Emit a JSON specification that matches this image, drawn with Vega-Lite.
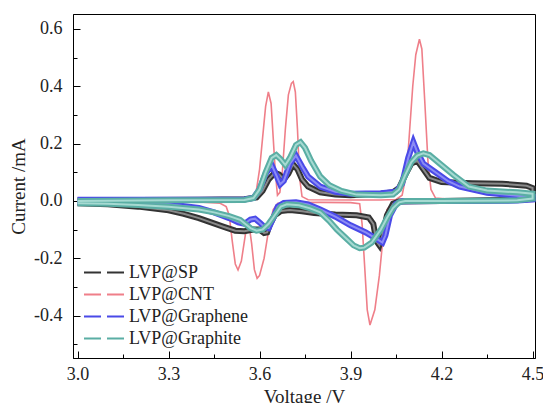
{
  "$schema": "https://vega.github.io/schema/vega-lite/v6.json",
  "width": 462,
  "height": 344,
  "autosize": {"type": "none"},
  "padding": {"left": 73, "top": 14, "right": 8, "bottom": 45},
  "background": "white",
  "config": {
    "font": "Liberation Serif",
    "view": {"stroke": "black", "strokeWidth": 1},
    "axis": {
      "grid": false,
      "domainColor": "black",
      "tickColor": "black",
      "tickWidth": 1,
      "labelFont": "Liberation Serif",
      "labelFontSize": 18,
      "labelColor": "#222",
      "titleFont": "Liberation Serif",
      "titleFontSize": 19,
      "titleFontWeight": "normal",
      "titleColor": "#222",
      "labelOverlap": false,
      "labelFlush": false
    },
    "legend": {
      "orient": "bottom-left",
      "offset": 10,
      "padding": 0,
      "labelFont": "Liberation Serif",
      "labelFontSize": 18,
      "labelColor": "#222",
      "symbolType": "M-1,0H3",
      "symbolStrokeWidth": 2,
      "symbolSize": 441,
      "symbolDash": [17, 6],
      "rowPadding": 1,
      "labelOffset": 23
    }
  },
  "data": {"values": [
    {"s":"LVP@SP","v":3.00,"i":0.002},{"s":"LVP@SP","v":3.20,"i":0.003},{"s":"LVP@SP","v":3.40,"i":0.004},{"s":"LVP@SP","v":3.55,"i":0.006},{"s":"LVP@SP","v":3.59,"i":0.012},{"s":"LVP@SP","v":3.61,"i":0.035},{"s":"LVP@SP","v":3.63,"i":0.075},{"s":"LVP@SP","v":3.65,"i":0.098},{"s":"LVP@SP","v":3.665,"i":0.092},{"s":"LVP@SP","v":3.68,"i":0.075},{"s":"LVP@SP","v":3.695,"i":0.095},{"s":"LVP@SP","v":3.71,"i":0.128},{"s":"LVP@SP","v":3.725,"i":0.11},{"s":"LVP@SP","v":3.74,"i":0.075},{"s":"LVP@SP","v":3.76,"i":0.05},{"s":"LVP@SP","v":3.80,"i":0.03},{"s":"LVP@SP","v":3.85,"i":0.022},{"s":"LVP@SP","v":3.90,"i":0.02},{"s":"LVP@SP","v":3.95,"i":0.022},{"s":"LVP@SP","v":4.00,"i":0.025},{"s":"LVP@SP","v":4.04,"i":0.03},{"s":"LVP@SP","v":4.06,"i":0.045},{"s":"LVP@SP","v":4.08,"i":0.09},{"s":"LVP@SP","v":4.10,"i":0.13},{"s":"LVP@SP","v":4.12,"i":0.14},{"s":"LVP@SP","v":4.14,"i":0.11},{"s":"LVP@SP","v":4.16,"i":0.08},{"s":"LVP@SP","v":4.20,"i":0.066},{"s":"LVP@SP","v":4.30,"i":0.062},{"s":"LVP@SP","v":4.40,"i":0.06},{"s":"LVP@SP","v":4.48,"i":0.053},{"s":"LVP@SP","v":4.50,"i":0.045},
    {"s":"LVP@SP","v":4.50,"i":0.02},{"s":"LVP@SP","v":4.48,"i":0.006},{"s":"LVP@SP","v":4.40,"i":0.003},{"s":"LVP@SP","v":4.20,"i":0.0},{"s":"LVP@SP","v":4.06,"i":-0.002},{"s":"LVP@SP","v":4.04,"i":-0.01},{"s":"LVP@SP","v":4.02,"i":-0.05},{"s":"LVP@SP","v":4.005,"i":-0.12},{"s":"LVP@SP","v":3.995,"i":-0.155},{"s":"LVP@SP","v":3.985,"i":-0.14},{"s":"LVP@SP","v":3.975,"i":-0.08},{"s":"LVP@SP","v":3.96,"i":-0.058},{"s":"LVP@SP","v":3.92,"i":-0.05},{"s":"LVP@SP","v":3.85,"i":-0.047},{"s":"LVP@SP","v":3.78,"i":-0.042},{"s":"LVP@SP","v":3.74,"i":-0.036},{"s":"LVP@SP","v":3.70,"i":-0.032},{"s":"LVP@SP","v":3.67,"i":-0.035},{"s":"LVP@SP","v":3.65,"i":-0.05},{"s":"LVP@SP","v":3.635,"i":-0.08},{"s":"LVP@SP","v":3.625,"i":-0.11},{"s":"LVP@SP","v":3.615,"i":-0.112},{"s":"LVP@SP","v":3.60,"i":-0.1},{"s":"LVP@SP","v":3.58,"i":-0.1},{"s":"LVP@SP","v":3.55,"i":-0.106},{"s":"LVP@SP","v":3.52,"i":-0.104},{"s":"LVP@SP","v":3.48,"i":-0.09},{"s":"LVP@SP","v":3.44,"i":-0.075},{"s":"LVP@SP","v":3.40,"i":-0.06},{"s":"LVP@SP","v":3.35,"i":-0.045},{"s":"LVP@SP","v":3.30,"i":-0.033},{"s":"LVP@SP","v":3.20,"i":-0.02},{"s":"LVP@SP","v":3.10,"i":-0.012},{"s":"LVP@SP","v":3.00,"i":-0.008},
    {"s":"LVP@CNT","v":3.00,"i":0.003},{"s":"LVP@CNT","v":3.30,"i":0.002},{"s":"LVP@CNT","v":3.55,"i":0.002},{"s":"LVP@CNT","v":3.58,"i":0.01},{"s":"LVP@CNT","v":3.59,"i":0.04},{"s":"LVP@CNT","v":3.60,"i":0.11},{"s":"LVP@CNT","v":3.61,"i":0.22},{"s":"LVP@CNT","v":3.62,"i":0.33},{"s":"LVP@CNT","v":3.629,"i":0.38},{"s":"LVP@CNT","v":3.638,"i":0.34},{"s":"LVP@CNT","v":3.645,"i":0.22},{"s":"LVP@CNT","v":3.652,"i":0.1},{"s":"LVP@CNT","v":3.659,"i":0.02},{"s":"LVP@CNT","v":3.667,"i":0.03},{"s":"LVP@CNT","v":3.675,"i":0.1},{"s":"LVP@CNT","v":3.685,"i":0.25},{"s":"LVP@CNT","v":3.695,"i":0.37},{"s":"LVP@CNT","v":3.705,"i":0.41},{"s":"LVP@CNT","v":3.711,"i":0.416},{"s":"LVP@CNT","v":3.718,"i":0.38},{"s":"LVP@CNT","v":3.725,"i":0.25},{"s":"LVP@CNT","v":3.732,"i":0.08},{"s":"LVP@CNT","v":3.74,"i":0.015},{"s":"LVP@CNT","v":3.76,"i":0.004},{"s":"LVP@CNT","v":3.90,"i":0.003},{"s":"LVP@CNT","v":4.00,"i":0.003},{"s":"LVP@CNT","v":4.05,"i":0.005},{"s":"LVP@CNT","v":4.07,"i":0.02},{"s":"LVP@CNT","v":4.085,"i":0.1},{"s":"LVP@CNT","v":4.095,"i":0.25},{"s":"LVP@CNT","v":4.105,"i":0.4},{"s":"LVP@CNT","v":4.115,"i":0.51},{"s":"LVP@CNT","v":4.127,"i":0.564},{"s":"LVP@CNT","v":4.135,"i":0.53},{"s":"LVP@CNT","v":4.145,"i":0.34},{"s":"LVP@CNT","v":4.155,"i":0.14},{"s":"LVP@CNT","v":4.165,"i":0.04},{"s":"LVP@CNT","v":4.18,"i":0.01},{"s":"LVP@CNT","v":4.25,"i":0.004},{"s":"LVP@CNT","v":4.40,"i":0.003},{"s":"LVP@CNT","v":4.50,"i":0.003},
    {"s":"LVP@CNT","v":4.50,"i":-0.002},{"s":"LVP@CNT","v":4.30,"i":-0.001},{"s":"LVP@CNT","v":4.10,"i":-0.002},{"s":"LVP@CNT","v":4.04,"i":-0.005},{"s":"LVP@CNT","v":4.02,"i":-0.03},{"s":"LVP@CNT","v":4.005,"i":-0.15},{"s":"LVP@CNT","v":3.995,"i":-0.26},{"s":"LVP@CNT","v":3.98,"i":-0.38},{"s":"LVP@CNT","v":3.964,"i":-0.433},{"s":"LVP@CNT","v":3.955,"i":-0.38},{"s":"LVP@CNT","v":3.946,"i":-0.22},{"s":"LVP@CNT","v":3.938,"i":-0.08},{"s":"LVP@CNT","v":3.93,"i":-0.01},{"s":"LVP@CNT","v":3.90,"i":-0.006},{"s":"LVP@CNT","v":3.80,"i":-0.005},{"s":"LVP@CNT","v":3.70,"i":-0.006},{"s":"LVP@CNT","v":3.66,"i":-0.008},{"s":"LVP@CNT","v":3.645,"i":-0.03},{"s":"LVP@CNT","v":3.63,"i":-0.1},{"s":"LVP@CNT","v":3.615,"i":-0.2},{"s":"LVP@CNT","v":3.60,"i":-0.26},{"s":"LVP@CNT","v":3.592,"i":-0.27},{"s":"LVP@CNT","v":3.583,"i":-0.24},{"s":"LVP@CNT","v":3.574,"i":-0.15},{"s":"LVP@CNT","v":3.565,"i":-0.08},{"s":"LVP@CNT","v":3.558,"i":-0.085},{"s":"LVP@CNT","v":3.55,"i":-0.14},{"s":"LVP@CNT","v":3.54,"i":-0.21},{"s":"LVP@CNT","v":3.529,"i":-0.241},{"s":"LVP@CNT","v":3.52,"i":-0.22},{"s":"LVP@CNT","v":3.51,"i":-0.14},{"s":"LVP@CNT","v":3.50,"i":-0.05},{"s":"LVP@CNT","v":3.49,"i":-0.02},{"s":"LVP@CNT","v":3.47,"i":-0.008},{"s":"LVP@CNT","v":3.40,"i":-0.004},{"s":"LVP@CNT","v":3.20,"i":-0.002},{"s":"LVP@CNT","v":3.00,"i":-0.002},
    {"s":"LVP@Graphene","v":3.00,"i":0.004},{"s":"LVP@Graphene","v":3.30,"i":0.004},{"s":"LVP@Graphene","v":3.55,"i":0.005},{"s":"LVP@Graphene","v":3.58,"i":0.01},{"s":"LVP@Graphene","v":3.60,"i":0.04},{"s":"LVP@Graphene","v":3.62,"i":0.095},{"s":"LVP@Graphene","v":3.64,"i":0.125},{"s":"LVP@Graphene","v":3.655,"i":0.09},{"s":"LVP@Graphene","v":3.668,"i":0.058},{"s":"LVP@Graphene","v":3.68,"i":0.07},{"s":"LVP@Graphene","v":3.70,"i":0.13},{"s":"LVP@Graphene","v":3.72,"i":0.158},{"s":"LVP@Graphene","v":3.74,"i":0.12},{"s":"LVP@Graphene","v":3.76,"i":0.085},{"s":"LVP@Graphene","v":3.80,"i":0.05},{"s":"LVP@Graphene","v":3.85,"i":0.032},{"s":"LVP@Graphene","v":3.90,"i":0.025},{"s":"LVP@Graphene","v":4.00,"i":0.027},{"s":"LVP@Graphene","v":4.05,"i":0.032},{"s":"LVP@Graphene","v":4.07,"i":0.06},{"s":"LVP@Graphene","v":4.09,"i":0.15},{"s":"LVP@Graphene","v":4.107,"i":0.205},{"s":"LVP@Graphene","v":4.12,"i":0.17},{"s":"LVP@Graphene","v":4.14,"i":0.13},{"s":"LVP@Graphene","v":4.18,"i":0.1},{"s":"LVP@Graphene","v":4.22,"i":0.07},{"s":"LVP@Graphene","v":4.26,"i":0.05},{"s":"LVP@Graphene","v":4.35,"i":0.028},{"s":"LVP@Graphene","v":4.45,"i":0.018},{"s":"LVP@Graphene","v":4.50,"i":0.014},
    {"s":"LVP@Graphene","v":4.50,"i":0.005},{"s":"LVP@Graphene","v":4.45,"i":0.001},{"s":"LVP@Graphene","v":4.20,"i":0.0},{"s":"LVP@Graphene","v":4.07,"i":-0.001},{"s":"LVP@Graphene","v":4.05,"i":-0.01},{"s":"LVP@Graphene","v":4.03,"i":-0.05},{"s":"LVP@Graphene","v":4.015,"i":-0.12},{"s":"LVP@Graphene","v":4.005,"i":-0.145},{"s":"LVP@Graphene","v":3.99,"i":-0.135},{"s":"LVP@Graphene","v":3.95,"i":-0.11},{"s":"LVP@Graphene","v":3.90,"i":-0.085},{"s":"LVP@Graphene","v":3.85,"i":-0.055},{"s":"LVP@Graphene","v":3.80,"i":-0.03},{"s":"LVP@Graphene","v":3.76,"i":-0.012},{"s":"LVP@Graphene","v":3.72,"i":-0.005},{"s":"LVP@Graphene","v":3.68,"i":-0.007},{"s":"LVP@Graphene","v":3.66,"i":-0.02},{"s":"LVP@Graphene","v":3.645,"i":-0.06},{"s":"LVP@Graphene","v":3.63,"i":-0.095},{"s":"LVP@Graphene","v":3.615,"i":-0.09},{"s":"LVP@Graphene","v":3.60,"i":-0.075},{"s":"LVP@Graphene","v":3.585,"i":-0.062},{"s":"LVP@Graphene","v":3.57,"i":-0.065},{"s":"LVP@Graphene","v":3.55,"i":-0.08},{"s":"LVP@Graphene","v":3.53,"i":-0.075},{"s":"LVP@Graphene","v":3.50,"i":-0.06},{"s":"LVP@Graphene","v":3.45,"i":-0.04},{"s":"LVP@Graphene","v":3.40,"i":-0.025},{"s":"LVP@Graphene","v":3.30,"i":-0.012},{"s":"LVP@Graphene","v":3.20,"i":-0.006},{"s":"LVP@Graphene","v":3.00,"i":-0.004},
    {"s":"LVP@Graphite","v":3.00,"i":0.0},{"s":"LVP@Graphite","v":3.30,"i":0.002},{"s":"LVP@Graphite","v":3.55,"i":0.003},{"s":"LVP@Graphite","v":3.58,"i":0.01},{"s":"LVP@Graphite","v":3.60,"i":0.04},{"s":"LVP@Graphite","v":3.62,"i":0.1},{"s":"LVP@Graphite","v":3.64,"i":0.15},{"s":"LVP@Graphite","v":3.655,"i":0.16},{"s":"LVP@Graphite","v":3.67,"i":0.145},{"s":"LVP@Graphite","v":3.685,"i":0.125},{"s":"LVP@Graphite","v":3.70,"i":0.15},{"s":"LVP@Graphite","v":3.72,"i":0.195},{"s":"LVP@Graphite","v":3.735,"i":0.205},{"s":"LVP@Graphite","v":3.75,"i":0.185},{"s":"LVP@Graphite","v":3.77,"i":0.14},{"s":"LVP@Graphite","v":3.80,"i":0.085},{"s":"LVP@Graphite","v":3.83,"i":0.055},{"s":"LVP@Graphite","v":3.87,"i":0.035},{"s":"LVP@Graphite","v":3.92,"i":0.022},{"s":"LVP@Graphite","v":4.00,"i":0.02},{"s":"LVP@Graphite","v":4.04,"i":0.022},{"s":"LVP@Graphite","v":4.06,"i":0.04},{"s":"LVP@Graphite","v":4.08,"i":0.09},{"s":"LVP@Graphite","v":4.10,"i":0.135},{"s":"LVP@Graphite","v":4.12,"i":0.158},{"s":"LVP@Graphite","v":4.14,"i":0.166},{"s":"LVP@Graphite","v":4.16,"i":0.16},{"s":"LVP@Graphite","v":4.20,"i":0.125},{"s":"LVP@Graphite","v":4.24,"i":0.09},{"s":"LVP@Graphite","v":4.29,"i":0.05},{"s":"LVP@Graphite","v":4.35,"i":0.036},{"s":"LVP@Graphite","v":4.45,"i":0.03},{"s":"LVP@Graphite","v":4.50,"i":0.025},
    {"s":"LVP@Graphite","v":4.50,"i":0.008},{"s":"LVP@Graphite","v":4.45,"i":0.002},{"s":"LVP@Graphite","v":4.20,"i":0.0},{"s":"LVP@Graphite","v":4.08,"i":0.0},{"s":"LVP@Graphite","v":4.06,"i":-0.005},{"s":"LVP@Graphite","v":4.04,"i":-0.025},{"s":"LVP@Graphite","v":4.02,"i":-0.06},{"s":"LVP@Graphite","v":4.00,"i":-0.1},{"s":"LVP@Graphite","v":3.97,"i":-0.145},{"s":"LVP@Graphite","v":3.945,"i":-0.163},{"s":"LVP@Graphite","v":3.93,"i":-0.165},{"s":"LVP@Graphite","v":3.91,"i":-0.155},{"s":"LVP@Graphite","v":3.88,"i":-0.125},{"s":"LVP@Graphite","v":3.855,"i":-0.1},{"s":"LVP@Graphite","v":3.83,"i":-0.07},{"s":"LVP@Graphite","v":3.80,"i":-0.04},{"s":"LVP@Graphite","v":3.767,"i":-0.026},{"s":"LVP@Graphite","v":3.73,"i":-0.015},{"s":"LVP@Graphite","v":3.69,"i":-0.012},{"s":"LVP@Graphite","v":3.67,"i":-0.02},{"s":"LVP@Graphite","v":3.65,"i":-0.05},{"s":"LVP@Graphite","v":3.63,"i":-0.08},{"s":"LVP@Graphite","v":3.61,"i":-0.1},{"s":"LVP@Graphite","v":3.59,"i":-0.104},{"s":"LVP@Graphite","v":3.57,"i":-0.095},{"s":"LVP@Graphite","v":3.536,"i":-0.066},{"s":"LVP@Graphite","v":3.50,"i":-0.053},{"s":"LVP@Graphite","v":3.45,"i":-0.04},{"s":"LVP@Graphite","v":3.40,"i":-0.03},{"s":"LVP@Graphite","v":3.30,"i":-0.02},{"s":"LVP@Graphite","v":3.20,"i":-0.014},{"s":"LVP@Graphite","v":3.10,"i":-0.01},{"s":"LVP@Graphite","v":3.00,"i":-0.008}
  ]},
  "encoding": {
    "x": {
      "field": "v", "type": "quantitative",
      "scale": {"domain": [2.985, 4.508], "nice": false, "zero": false},
      "axis": {
        "title": "Voltage /V",
        "values": [3.0, 3.15, 3.3, 3.45, 3.6, 3.75, 3.9, 4.05, 4.2, 4.35, 4.5],
        "labelExpr": "abs(datum.value*10/3 - round(datum.value*10/3)) < 0.01 ? format(datum.value, '.1f') : ''",
        "tickSize": {"condition": {"test": "abs(datum.value*10/3 - round(datum.value*10/3)) < 0.01", "value": -7}, "value": -4},
        "labelFont": "Liberation Serif",
        "labelFontSize": 18,
        "titleFont": "Liberation Serif",
        "titleFontSize": 19,
        "labelPadding": 14,
        "titlePadding": 1
      }
    },
    "y": {
      "field": "i", "type": "quantitative",
      "scale": {"domain": [-0.548, 0.652], "nice": false, "zero": false},
      "axis": {
        "title": "Current /mA",
        "values": [-0.5, -0.4, -0.3, -0.2, -0.1, 0.0, 0.1, 0.2, 0.3, 0.4, 0.5, 0.6],
        "labelExpr": "abs(datum.value*5 - round(datum.value*5)) < 0.01 ? replace(format(datum.value, '.1f'), '\u2212', '-') : ''",
        "tickSize": {"condition": {"test": "abs(datum.value*5 - round(datum.value*5)) < 0.01", "value": -7}, "value": -4},
        "labelFont": "Liberation Serif",
        "labelFontSize": 18,
        "titleFont": "Liberation Serif",
        "titleFontSize": 19,
        "labelPadding": 18,
        "titlePadding": 5
      }
    },
    "order": {"value": null}
  },
  "layer": [
    {
      "transform": [{"filter": "datum.s === 'LVP@CNT'"}],
      "mark": {"type": "line", "strokeWidth": 1.6},
      "encoding": {
        "color": {"datum": "LVP@CNT", "type": "nominal",
          "scale": {"domain": ["LVP@SP", "LVP@CNT", "LVP@Graphene", "LVP@Graphite"], "range": ["#333333", "#ef7f89", "#4a4ae8", "#5aaea4"]},
          "legend": {"title": null}}
      }
    },
    {
      "transform": [{"filter": "datum.s === 'LVP@SP'"}],
      "mark": {"type": "line", "strokeWidth": 6},
      "encoding": {"color": {"datum": "LVP@SP", "type": "nominal"}}
    },
    {
      "transform": [{"filter": "datum.s === 'LVP@SP'"}],
      "mark": {"type": "line", "strokeWidth": 2, "stroke": "#8a8a8a"},
      "encoding": {}
    },
    {
      "transform": [{"filter": "datum.s === 'LVP@Graphene'"}],
      "mark": {"type": "line", "strokeWidth": 6},
      "encoding": {"color": {"datum": "LVP@Graphene", "type": "nominal"}}
    },
    {
      "transform": [{"filter": "datum.s === 'LVP@Graphene'"}],
      "mark": {"type": "line", "strokeWidth": 2, "stroke": "#8c8cf4"},
      "encoding": {}
    },
    {
      "transform": [{"filter": "datum.s === 'LVP@Graphite'"}],
      "mark": {"type": "line", "strokeWidth": 6},
      "encoding": {"color": {"datum": "LVP@Graphite", "type": "nominal"}}
    },
    {
      "transform": [{"filter": "datum.s === 'LVP@Graphite'"}],
      "mark": {"type": "line", "strokeWidth": 2, "stroke": "#a6dad2"},
      "encoding": {}
    }
  ]
}
